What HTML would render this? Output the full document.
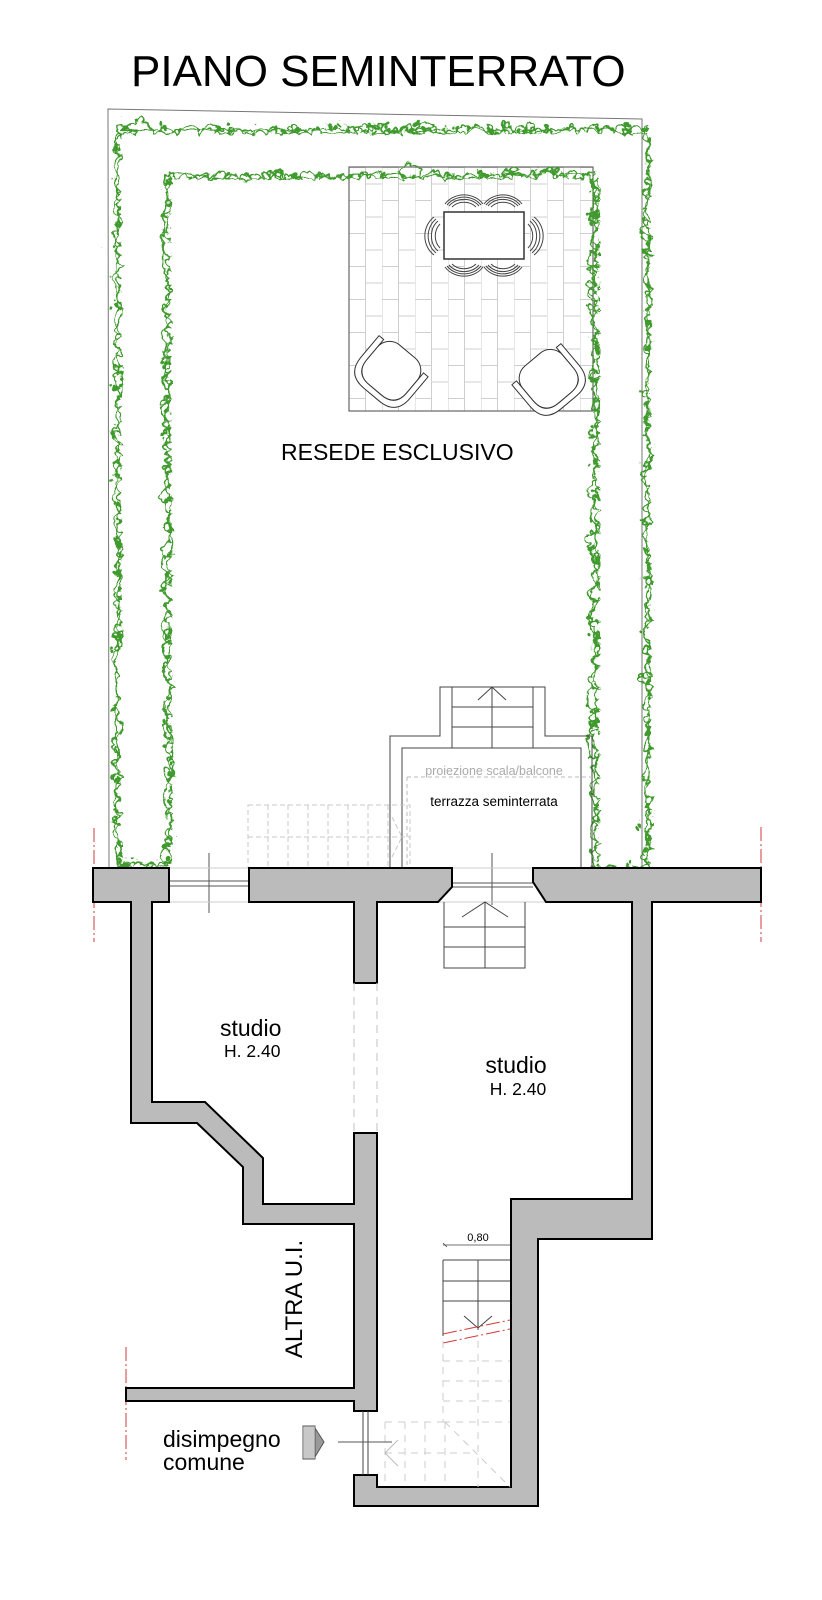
<!DOCTYPE html>
<html><head><meta charset="utf-8"><style>
html,body{margin:0;padding:0;background:#fff;}
svg{display:block;}
text{font-family:"Liberation Sans",Arial,sans-serif;}
</style></head><body>
<svg width="822" height="1600" viewBox="0 0 822 1600" xmlns="http://www.w3.org/2000/svg">
<defs>
<pattern id="tiles" x="349" y="167" width="33" height="33" patternUnits="userSpaceOnUse">
<path d="M0,0V33M16.5,0V33M0,0.5H16.5M16.5,17H33" stroke="#cfcfcf" stroke-width="1" fill="none"/>
</pattern>
<filter id="rough" x="-5%" y="-5%" width="110%" height="110%">
<feTurbulence type="turbulence" baseFrequency="0.045" numOctaves="3" seed="3" result="t"/>
<feDisplacementMap in="SourceGraphic" in2="t" scale="22" xChannelSelector="R" yChannelSelector="G"/>
</filter>
<filter id="rough2" x="-5%" y="-5%" width="110%" height="110%">
<feTurbulence type="turbulence" baseFrequency="0.07" numOctaves="2" seed="9" result="t"/>
<feDisplacementMap in="SourceGraphic" in2="t" scale="16" xChannelSelector="G" yChannelSelector="R"/>
</filter>
</defs>

<text x="131" y="86" font-size="44" fill="#000">PIANO SEMINTERRATO</text>

<path d="M109,868 L108,109 L642,119 L642,868" fill="none" stroke="#777" stroke-width="1"/>

<rect x="349" y="167" width="244" height="244" fill="url(#tiles)" stroke="#666" stroke-width="1.2"/>

<g fill="none" stroke="#3f9a2f" stroke-width="2.2" stroke-linejoin="round">
<path filter="url(#rough)" d="M113,862 L113,125 L643,125 L643,864 M165,862 L162,172 L590,170 L590,862 M113,860 L165,860 M590,864 L643,864"/>
<path filter="url(#rough2)" d="M113,862 L113,125 L643,125 L643,864 M165,862 L162,172 L590,170 L590,862 M113,860 L165,860 M590,864 L643,864"/>
</g>

<g fill="none" stroke="#444" stroke-width="1">
<path d="M452,207 A16,14 0 0 1 476,207 M449,206 A19,17 0 0 1 479,206 M447,205 A21,19 0 0 1 481,205 M445,204 A23,21 0 0 1 483,204"/>
<path d="M491,207 A16,14 0 0 1 515,207 M488,206 A19,17 0 0 1 518,206 M486,205 A21,19 0 0 1 520,205 M484,204 A23,21 0 0 1 522,204"/>
<path d="M452,264 A16,14 0 0 0 476,264 M449,265 A19,17 0 0 0 479,265 M447,266 A21,19 0 0 0 481,266 M445,267 A23,21 0 0 0 483,267"/>
<path d="M491,264 A16,14 0 0 0 515,264 M488,265 A19,17 0 0 0 518,265 M486,266 A21,19 0 0 0 520,266 M484,267 A23,21 0 0 0 522,267"/>
<path d="M440,224 A14,16 0 0 0 440,248 M438,221 A17,19 0 0 0 438,251 M436,219 A19,21 0 0 0 436,253 M434,217 A21,23 0 0 0 434,255"/>
<path d="M528,224 A14,16 0 0 1 528,248 M530,221 A17,19 0 0 1 530,251 M532,219 A19,21 0 0 1 532,253 M534,217 A21,23 0 0 1 534,255"/>
</g>
<rect x="444" y="212" width="80" height="47" fill="#fff" stroke="#333" stroke-width="1.5"/>

<g transform="translate(392,370) rotate(40)" fill="#fff" stroke="#333" stroke-width="1">
<rect x="-26" y="-24" width="52" height="50" rx="16"/>
<path d="M-32,-18 L-32,10 Q-32,32 -10,32 L10,32 Q32,32 32,10 L32,-18 L26,-18 L26,8 Q26,26 8,26 L-8,26 Q-26,26 -26,8 L-26,-18 Z"/>
</g>
<g transform="translate(548,378) rotate(-40)" fill="#fff" stroke="#333" stroke-width="1">
<rect x="-26" y="-24" width="52" height="50" rx="16"/>
<path d="M-32,-18 L-32,10 Q-32,32 -10,32 L10,32 Q32,32 32,10 L32,-18 L26,-18 L26,8 Q26,26 8,26 L-8,26 Q-26,26 -26,8 L-26,-18 Z"/>
</g>

<text x="281" y="460" font-size="23" fill="#000">RESEDE ESCLUSIVO</text>

<g fill="none" stroke="#444" stroke-width="1">
<path d="M390,868 V736 H440 V687 H545 V736 H592 V868"/>
<path d="M402,868 V748 H581 V868"/>
<path d="M452,687 V748 M533,687 V748 M452,707 H533 M452,727 H533 M492,687 V748 M478,700 L492,687 L506,700"/>
</g>
<text x="494" y="775" font-size="12.5" fill="#aaa" text-anchor="middle">proiezione scala/balcone</text>
<path d="M407,777 H592 M407,777 V868" stroke="#bbb" stroke-width="1" stroke-dasharray="4,3" fill="none"/>
<text x="494" y="806" font-size="13.5" fill="#000" text-anchor="middle">terrazza seminterrata</text>

<g fill="none" stroke="#c8c8c8" stroke-width="1" stroke-dasharray="5,3">
<rect x="248" y="805" width="162" height="63"/>
<path d="M268,805V868 M288,805V868 M308,805V868 M328,805V868 M348,805V868 M368,805V868 M388,805V868 M248,837H410 M392,817 L402,837 L392,857"/>
</g>

<g fill="none" stroke="#555" stroke-width="1">
<path d="M169,881 H249 M169,886 H249 M169,879 V889 M249,879 V889"/>
<path d="M209,853 V913"/>
<path d="M452,883 H533 M452,887 H533"/>
<path d="M492,853 V905"/>
</g>
<path d="M169,868 H249 M169,902 H249 M452,868 H533 M438,902 H546" stroke="#ccc" stroke-width="1"/>

<g fill="none" stroke="#444" stroke-width="1">
<path d="M444,902 V968 H525 V902 M444,927 H525 M444,947 H525 M485,902 V968 M462,917 L485,902 L508,917"/>
</g>

<g stroke="#d23a3a" stroke-width="1" stroke-dasharray="14,3,2,3" fill="none">
<path d="M94,828 V942 M761,827 V942 M126,1347 V1460"/>
</g>

<g fill="#bbbbbb" stroke="#000" stroke-width="2" stroke-linejoin="miter">
<polygon points="93,868 169,868 169,902 152,902 152,1102 205,1102 263,1158 263,1204 354,1204 354,1133 377,1133 377,1411 354,1411 354,1401 126,1401 126,1388 354,1388 354,1224 243,1224 243,1167 197,1123 131,1123 131,902 93,902"/>
<polygon points="249,868 452,868 452,887 438,902 377,902 377,983 354,983 354,902 249,902"/>
<polygon points="533,868 761,868 761,902 652,902 652,1239 538,1239 538,1506 354,1506 354,1475 377,1475 377,1487 511,1487 511,1199 632,1199 632,902 546,902 533,882"/>
</g>

<path d="M354,983 V1133 M377,983 V1133" stroke="#ccc" stroke-width="1.2" stroke-dasharray="8,6"/>

<text x="220" y="1036" font-size="23" fill="#000">studio</text>
<text x="224" y="1057" font-size="17.5" fill="#000">H. 2.40</text>
<text x="516" y="1073" font-size="23" fill="#000" text-anchor="middle">studio</text>
<text x="518" y="1095" font-size="17.5" fill="#000" text-anchor="middle">H. 2.40</text>

<text transform="translate(302,1299) rotate(-90)" font-size="24" fill="#000" text-anchor="middle">ALTRA U.I.</text>

<text x="478" y="1241" font-size="11" fill="#000" text-anchor="middle">0,80</text>
<path d="M443,1245 H510 M443,1243 L447,1247" stroke="#444" stroke-width="0.8" fill="none"/>
<g fill="none" stroke="#444" stroke-width="1">
<path d="M443,1260 H510 M443,1281 H510 M443,1301 H510 M443,1260 V1336 M478,1260 V1330 M464,1316 L478,1328 L492,1316"/>
</g>
<path d="M443,1334 L510,1320 M443,1343 L510,1329" stroke="#d23a3a" stroke-width="1" stroke-dasharray="14,3,2,3" fill="none"/>
<g fill="none" stroke="#ccc" stroke-width="1" stroke-dasharray="7,6">
<path d="M443,1341 V1422 M478,1341 V1487 M443,1361 H510 M443,1381 H510 M443,1401 H510 M443,1422 H510"/>
<path d="M385,1422 H443 M385,1422 V1487 M405,1422 V1487 M425,1422 V1487 M445,1422 V1487 M385,1453 H470 M445,1422 L510,1487"/>
</g>
<path d="M398,1440 L385,1453 L398,1466" stroke="#bbb" stroke-width="1" fill="none"/>

<path d="M363,1411 V1475 M368,1411 V1475" stroke="#444" stroke-width="1" fill="none"/>
<path d="M338,1442 H392" stroke="#555" stroke-width="1"/>

<rect x="303" y="1426" width="12" height="33" fill="#fff" stroke="#555" stroke-width="1"/>
<path d="M305,1426V1459 M307,1426V1459 M309,1426V1459 M311,1426V1459 M313,1426V1459" stroke="#777" stroke-width="0.8"/>
<path d="M315,1428 L324,1442 L315,1457 Z" fill="#999" stroke="#555" stroke-width="1"/>

<text x="163" y="1447" font-size="23" fill="#000">disimpegno</text>
<text x="163" y="1470" font-size="23" fill="#000">comune</text>
</svg>
</body></html>
